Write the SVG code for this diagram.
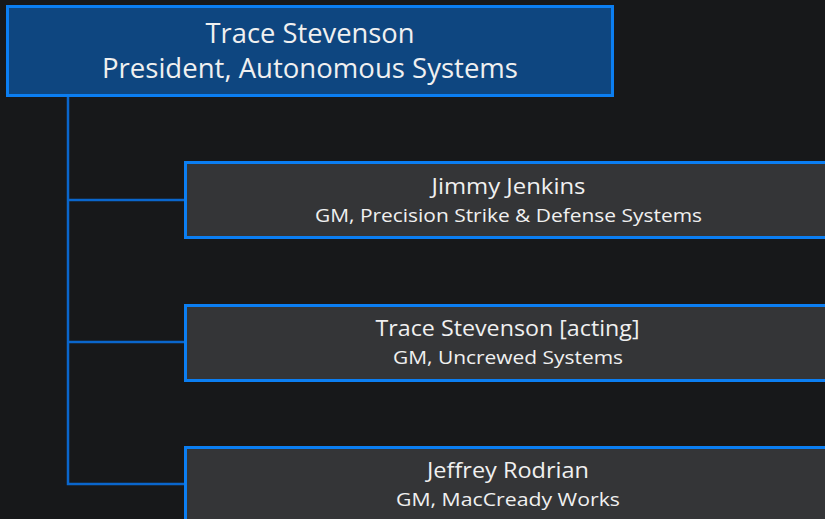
<svg xmlns="http://www.w3.org/2000/svg" width="825" height="519" viewBox="0 0 825 519">
<style>
.top{fill:#0e4680;stroke:#0b7ef2;stroke-width:3}
.box{fill:#343537;stroke:#0b7ef2;stroke-width:3}
.conn{fill:none;stroke:#0a66cc;stroke-width:2.5}
text{font-family:"Open Sans","Liberation Sans",sans-serif;fill:#f0f0f0;text-anchor:middle}
.t1{font-size:28px}
.n{font-size:21px}
.s{font-size:19px}
</style>
<rect width="825" height="519" fill="#17181a"/>
<g id="connectors">
<path class="conn" d="M68,96 V484 H185"/>
<path class="conn" d="M68,200 H185"/>
<path class="conn" d="M68,342 H185"/>
</g>
<g id="president">
<rect class="top" x="7.5" y="6.5" width="605" height="89"/>
<text class="t1" x="310" y="43" textLength="209" lengthAdjust="spacingAndGlyphs">Trace Stevenson</text>
<text class="t1" x="310" y="78" textLength="416" lengthAdjust="spacingAndGlyphs">President, Autonomous Systems</text>
</g>
<g id="jenkins">
<rect class="box" x="185.5" y="162.5" width="650" height="75"/>
<text class="n" x="508.5" y="194" textLength="154" lengthAdjust="spacingAndGlyphs">Jimmy Jenkins</text>
<text class="s" x="508.5" y="222" textLength="387" lengthAdjust="spacingAndGlyphs">GM, Precision Strike &amp; Defense Systems</text>
</g>
<g id="stevenson-acting">
<rect class="box" x="185.5" y="305.5" width="650" height="75"/>
<text class="n" x="507.5" y="336" textLength="264" lengthAdjust="spacingAndGlyphs">Trace Stevenson [acting]</text>
<text class="s" x="508" y="364" textLength="230" lengthAdjust="spacingAndGlyphs">GM, Uncrewed Systems</text>
</g>
<g id="rodrian">
<rect class="box" x="185.5" y="447.5" width="650" height="80"/>
<text class="n" x="508" y="478" textLength="162" lengthAdjust="spacingAndGlyphs">Jeffrey Rodrian</text>
<text class="s" x="508" y="506" textLength="224" lengthAdjust="spacingAndGlyphs">GM, MacCready Works</text>
</g>
</svg>
